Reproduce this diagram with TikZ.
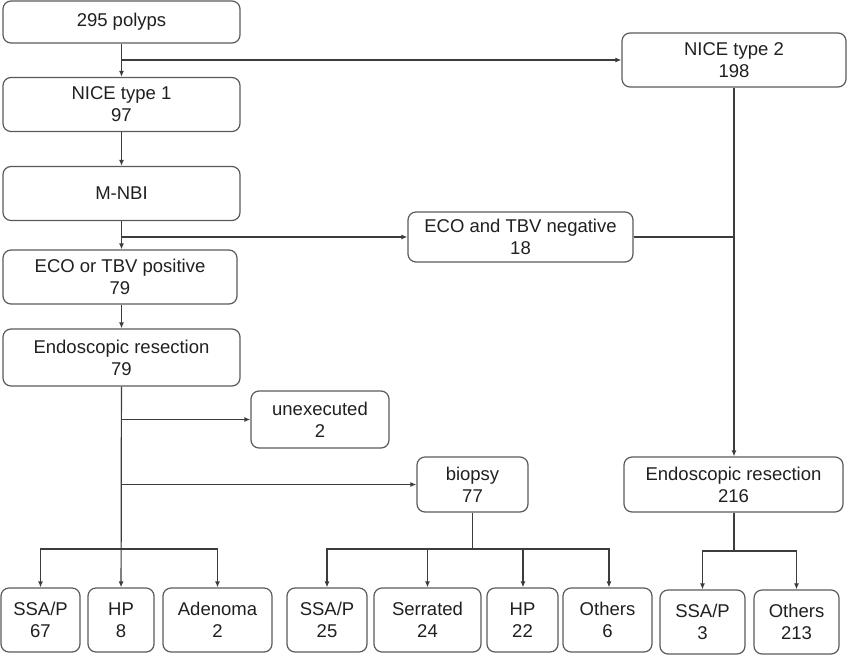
\documentclass[tikz,border=0pt]{standalone}
\usepackage{fontspec}
\setmainfont{Liberation Sans}
\usetikzlibrary{arrows.meta,positioning}
\definecolor{boxgray}{HTML}{5A5A5A}
\definecolor{linegray}{HTML}{3C3C3C}
\definecolor{textgray}{HTML}{202020}

\begin{document}
\begin{tikzpicture}[>={Latex[length=6pt,width=5pt]},x=1pt,y=-1pt,line width=1.2pt,font=\fontsize{18.5}{22}\selectfont]
\tikzstyle{flow box}=[rectangle,rounded corners=8pt,draw=boxgray,text=textgray,align=center,inner sep=2pt]
\tikzstyle{flow line}=[draw=linegray]

\tikzset{
	main box/.style={flow box,minimum width=237pt,minimum height=54pt},
	side box/.style={flow box,minimum height=55pt},
	leaf box/.style={flow box,minimum height=64pt}
}
\useasboundingbox (0,0) rectangle (848,656);

      % left column
      \node[main box,minimum height=42pt] (polyps) at (121.5,22) {295 polyps};
      \node[main box] (nice1) at (121.5,104.5) {NICE type 1\\97};
      \node[main box] (mnbi) at (121.5,193.5) {M-NBI};
      \node[main box,minimum width=234pt] (ecopos) at (120,277) {ECO or TBV positive\\79};
      \node[main box,minimum height=57pt] (endo1) at (121.5,357.5) {Endoscopic resection\\79};
      \node[side box,minimum width=138pt,minimum height=57pt] (unexec) at (320,419.5) {unexecuted\\2};
      \node[side box,minimum width=111pt] (biopsy) at (472.5,484.5) {biopsy\\77};

      % right column
      \node[side box,minimum width=224pt,minimum height=54pt] (nice2) at (734,60) {NICE type 2\\198};
      \node[side box,minimum width=225pt,minimum height=50pt] (econeg) at (520.5,237) {ECO and TBV negative\\18};
      \node[side box,minimum width=219pt] (endo2) at (733.5,484.5) {Endoscopic resection\\216};

      % bottom row
      \node[leaf box,minimum width=79pt] (ssap1) at (40.5,620) {SSA/P\\67};
      \node[leaf box,minimum width=66pt] (hp1) at (121,620) {HP\\8};
      \node[leaf box,minimum width=109pt] (aden) at (217.5,620) {Adenoma\\2};
      \node[leaf box,minimum width=80pt] (ssap2) at (327,620) {SSA/P\\25};
      \node[leaf box,minimum width=107pt] (serr) at (427.5,620) {Serrated\\24};
      \node[leaf box,minimum width=71pt] (hp2) at (522.5,620) {HP\\22};
      \node[leaf box,minimum width=89pt] (oth1) at (607.5,620) {Others\\6};
      \node[leaf box,minimum width=85pt] (ssap3) at (702.5,622) {SSA/P\\3};
      \node[leaf box,minimum width=85pt] (oth2) at (796.5,622) {Others\\213};

      \coordinate (j1) at (121,60);
      \coordinate (j2) at (121,237);
      \coordinate (j3) at (121,419.5);
      \coordinate (j4) at (121,484.5);
      \coordinate (j5) at (734,237);
      \coordinate (f1) at (121,549);
      \coordinate (f2) at (472.5,549);
      \coordinate (f3) at (734,551);

    \path[->] (polyps) edge[flow line] (nice1);
    \path[->] (nice1) edge[flow line] (mnbi);
    \path[->] (mnbi) edge[flow line] (ecopos.north -| mnbi);
    \path[->] (ecopos.south -| mnbi) edge[flow line] (endo1);
    \path[->] (endo1) edge[flow line] (hp1);

    \path[->] (j1) edge[flow line] (nice2.west);
    \path[->] (j2) edge[flow line] (econeg.west);
    \path[->] (j3) edge[flow line] (unexec.west);
    \path[->] (j4) edge[flow line] (biopsy.west);

    \path[->] (nice2.south -| j5) edge[flow line] (endo2.north -| j5);
    \path (econeg.east) edge[flow line] (j5);

    \draw[flow line,->] (f1) -| (ssap1);
    \draw[flow line,->] (f1) -| (aden);

    \draw[flow line] (biopsy) -- (f2);
    \draw[flow line,->] (f2) -| (ssap2);
    \draw[flow line,->] (f2) -| (serr);
    \draw[flow line,->] (f2) -| (hp2.north -| 523,0);
    \draw[flow line,->] (f2) -| (oth1.north -| 609,0);

    \draw[flow line] (endo2.south -| f3) -- (f3);
    \draw[flow line,->] (f3) -| (ssap3);
    \draw[flow line,->] (f3) -| (oth2);
;
\end{tikzpicture}
\end{document}
